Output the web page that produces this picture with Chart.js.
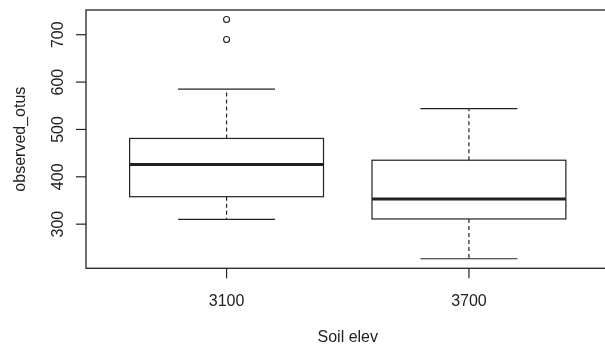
<!DOCTYPE html>
<html>
<head>
<meta charset="utf-8">
<script src="https://cdn.jsdelivr.net/npm/chart.js@4.4.0/dist/chart.umd.min.js"></script>
<style>
  html, body { margin: 0; padding: 0; background: #fff; overflow: hidden; }
  #wrap { width: 605px; height: 349px; overflow: hidden; }
  canvas { display: block; }
</style>
</head>
<body>
<div id="wrap"><canvas id="boxChart" width="620" height="349"></canvas></div>
<script>
// observed OTUs by soil elevation, five-number summaries + outliers
const elevations  = ['3100', '3700'];
const whiskerLow  = [310, 227];
const q1          = [358, 311];
const medians     = [426, 353];
const q3          = [481, 435];
const whiskerHigh = [585, 544];
const outliers    = [[690, 732], []];
const yTicks      = [300, 400, 500, 600, 700];

const INK  = '#222';
const FONT = '16px "Liberation Sans", Arial, sans-serif';

// R style limits: data range padded by 4% on each side
const allVals = [...whiskerLow, ...whiskerHigh, ...outliers.flat()];
const lo = Math.min(...allVals), hi = Math.max(...allVals);
const yMin = lo - (hi - lo) * 0.04;
const yMax = hi + (hi - lo) * 0.04;
const xMin = 0.5 - elevations.length * 0.04;
const xMax = elevations.length + 0.5 + elevations.length * 0.04;

const outlierPoints = outliers.flatMap((vals, i) => vals.map(v => ({ x: i + 1, y: v })));

function line(ctx, x1, y1, x2, y2) {
  ctx.beginPath();
  ctx.moveTo(x1, y1);
  ctx.lineTo(x2, y2);
  ctx.stroke();
}

const boxPlot = {
  id: 'boxPlot',
  beforeDatasetsDraw(chart) {
    const { ctx, scales: { x, y } } = chart;
    ctx.save();
    ctx.strokeStyle = INK;
    elevations.forEach((_, i) => {
      const pos = i + 1;
      const cx = x.getPixelForValue(pos);
      const bl = x.getPixelForValue(pos - 0.4), br = x.getPixelForValue(pos + 0.4);
      const cl = x.getPixelForValue(pos - 0.2), cr = x.getPixelForValue(pos + 0.2);
      const yLo = y.getPixelForValue(whiskerLow[i]);
      const yQ1 = y.getPixelForValue(q1[i]);
      const yMed = y.getPixelForValue(medians[i]);
      const yQ3 = y.getPixelForValue(q3[i]);
      const yHi = y.getPixelForValue(whiskerHigh[i]);

      ctx.lineWidth = 1.2;
      ctx.setLineDash([4, 3]);
      line(ctx, cx, yQ3, cx, yHi);
      line(ctx, cx, yQ1, cx, yLo);
      ctx.setLineDash([]);
      line(ctx, cl, yHi, cr, yHi);
      line(ctx, cl, yLo, cr, yLo);

      ctx.fillStyle = '#fff';
      ctx.fillRect(bl, yQ3, br - bl, yQ1 - yQ3);
      ctx.strokeRect(bl, yQ3, br - bl, yQ1 - yQ3);

      ctx.lineWidth = 3;
      line(ctx, bl, yMed, br, yMed);
    });
    ctx.restore();
  },
  afterDraw(chart) {
    const { ctx, chartArea: a, scales: { x, y } } = chart;
    ctx.save();
    ctx.strokeStyle = INK;
    ctx.fillStyle = INK;
    ctx.lineWidth = 1.3;
    ctx.strokeRect(a.left, a.top, a.right - a.left, a.bottom - a.top);

    ctx.font = FONT;
    ctx.textAlign = 'center';
    ctx.textBaseline = 'alphabetic';

    // y axis: ticks + rotated labels
    ctx.lineWidth = 1.2;
    yTicks.forEach(t => {
      const py = y.getPixelForValue(t);
      line(ctx, a.left - 10, py, a.left, py);
      ctx.save();
      ctx.translate(a.left - 23, py);
      ctx.rotate(-Math.PI / 2);
      ctx.fillText(String(t), 0, 0);
      ctx.restore();
    });

    // x axis: ticks + category labels
    elevations.forEach((lab, i) => {
      const px = x.getPixelForValue(i + 1);
      line(ctx, px, a.bottom, px, a.bottom + 10);
      ctx.fillText(lab, px, a.bottom + 38);
    });

    // axis titles
    ctx.fillText('Soil elev', (a.left + a.right) / 2, a.bottom + 74);
    ctx.save();
    ctx.translate(a.left - 61, (a.top + a.bottom) / 2);
    ctx.rotate(-Math.PI / 2);
    ctx.fillText('observed_otus', 0, 0);
    ctx.restore();
    ctx.restore();
  }
};

new Chart(document.getElementById('boxChart'), {
  type: 'scatter',
  data: {
    datasets: [{
      data: outlierPoints,
      pointRadius: 3,
      pointHoverRadius: 3,
      pointBackgroundColor: '#fff',
      pointBorderColor: INK,
      pointBorderWidth: 1.1
    }]
  },
  options: {
    responsive: false,
    devicePixelRatio: 1,
    animation: false,
    layout: { padding: { left: 86, top: 10, right: 10.5, bottom: 80.7 } },
    plugins: { legend: { display: false }, tooltip: { enabled: false } },
    scales: {
      x: { type: 'linear', display: false, min: xMin, max: xMax },
      y: { type: 'linear', display: false, min: yMin, max: yMax }
    }
  },
  plugins: [boxPlot]
});
</script>
</body>
</html>
